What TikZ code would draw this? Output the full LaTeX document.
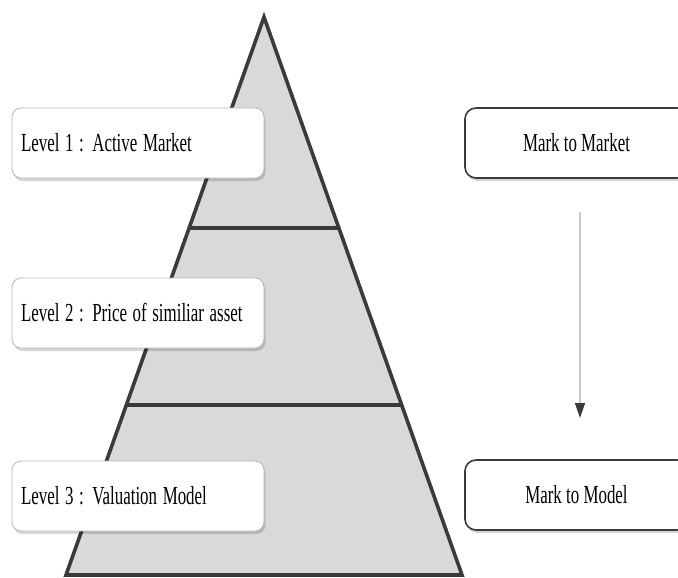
\documentclass[tikz,border=0pt]{standalone}
\usepackage{fontspec}
\setmainfont{Liberation Serif}
\usetikzlibrary{shadows,arrows.meta,calc}
\definecolor{pyrfill}{HTML}{D9D9D9}
\definecolor{pyrline}{HTML}{3A3A3A}
\newcommand\narrowtext[1]{\scalebox{0.65}[1]{#1}}
\begin{document}
\begin{tikzpicture}[x=1pt,y=-1pt,
  boxfont/.style={font=\fontsize{26}{30}\selectfont},
  levelbox/.style={boxfont, draw=black!28, line width=0.8pt, fill=white, rounded corners=9pt,
    minimum width=252pt, minimum height=70pt, text width=234pt, align=left, inner xsep=9pt,
    drop shadow={shadow xshift=1.5pt, shadow yshift=-3pt, fill=black, opacity=0.16}},
  markbox/.style={boxfont, draw=pyrline, line width=1.6pt, fill=white, rounded corners=11pt,
    minimum width=223pt, minimum height=70pt, align=center,
    drop shadow={shadow xshift=1.5pt, shadow yshift=-3pt, fill=black, opacity=0.16}},
  pyr/.style={draw=pyrline, line width=3.6pt},
  flow/.style={draw=black!22, line width=1.5pt, -{Triangle[length=15pt,width=10pt,fill=pyrline,color=pyrline]}}
]
\useasboundingbox (0,0) rectangle (678,578);
\clip (0,0) rectangle (678,578);
% pyramid
\coordinate (A) at (264,17);
\coordinate (BL) at (66,575);
\coordinate (BR) at (462,575);
\filldraw[pyr, fill=pyrfill, line join=miter] (A) -- (BR) -- (BL) -- cycle;
\draw[pyr] ($(A)!0.378!(BL)$) -- ($(A)!0.378!(BR)$);
\draw[pyr] ($(A)!0.695!(BL)$) -- ($(A)!0.695!(BR)$);
% level boxes
\node[levelbox] (l1) at (138,143) {\narrowtext{Level 1 : Active Market}};
\node[levelbox] (l2) at (138,313) {\narrowtext{Level 2 : Price of similiar asset}};
\node[levelbox] (l3) at (138,496) {\narrowtext{Level 3 : Valuation Model}};
% mark boxes
\node[markbox] (mm) at (576.5,143) {\narrowtext{Mark to Market}};
\node[markbox] (md) at (576.5,495) {\narrowtext{Mark to Model}};
% arrow
\coordinate (arrS) at (580,212);
\coordinate (arrE) at (580,418);
\draw[flow] (arrS) -- (arrE);
\end{tikzpicture}
\end{document}
